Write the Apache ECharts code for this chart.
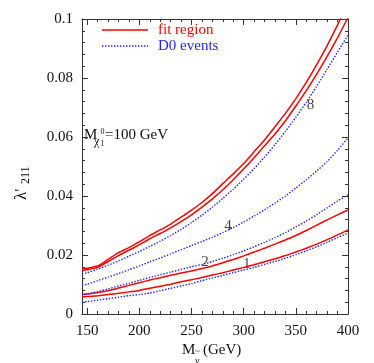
<!DOCTYPE html>
<html>
<head>
<meta charset="utf-8">
<script src="https://cdn.jsdelivr.net/npm/echarts@6/dist/echarts.min.js"></script>
<style>
  html, body { margin: 0; padding: 0; background: #fff; }
  #chart { width: 374px; height: 363px; }
</style>
</head>
<body>
<div id="chart"></div>
<script>
// sneutrino mass grid (GeV)
const massGrid = [145, 150, 160, 170, 180, 190, 200, 210, 220, 230, 240, 250, 260, 270,
  280, 290, 300, 310, 320, 330, 340, 350, 360, 370, 380, 390, 400];

// fit region bounds (red, solid)
const fitUpper = [0.0152, 0.0155, 0.0163, 0.0185, 0.0208, 0.0225, 0.0245, 0.0266, 0.0285, 0.0305,
  0.0328, 0.0352, 0.0378, 0.0408, 0.0442, 0.0475, 0.051, 0.055, 0.059, 0.0635, 0.068, 0.073,
  0.0785, 0.0845, 0.091, 0.098, 0.1055];
const fitLower = [0.0148, 0.015, 0.0158, 0.0178, 0.0198, 0.0216, 0.0235, 0.0255, 0.0273, 0.0292,
  0.0313, 0.0336, 0.0362, 0.039, 0.0421, 0.0455, 0.0492, 0.053, 0.057, 0.061, 0.0655, 0.0705,
  0.0757, 0.0813, 0.0873, 0.0937, 0.1005];
const fitTwo = [0.0067, 0.0068, 0.0073, 0.0079, 0.0088, 0.0097, 0.0106, 0.0115, 0.0123, 0.0131,
  0.0139, 0.0146, 0.0154, 0.0163, 0.0174, 0.0185, 0.0197, 0.021, 0.0223, 0.0237, 0.0251, 0.0266,
  0.0283, 0.0301, 0.0319, 0.0336, 0.0353];
const fitOne = [0.0058, 0.0059, 0.0062, 0.0066, 0.007, 0.0075, 0.008, 0.0087, 0.0094, 0.0101,
  0.0109, 0.0116, 0.0124, 0.0132, 0.014, 0.0149, 0.0158, 0.0167, 0.0177, 0.0187, 0.0198, 0.021,
  0.0223, 0.0237, 0.0252, 0.0268, 0.0285];

// D0 event contours (blue, dotted)
const d0Eight = [0.0135, 0.014, 0.0152, 0.0165, 0.018, 0.0196, 0.0212, 0.0229, 0.0247, 0.0266,
  0.0287, 0.031, 0.0335, 0.0362, 0.0392, 0.0423, 0.0457, 0.0493, 0.0532, 0.0574, 0.0619, 0.0667,
  0.0718, 0.0772, 0.083, 0.0888, 0.0946];
const d0Four = [0.0098, 0.0101, 0.0113, 0.0125, 0.0137, 0.015, 0.0163, 0.0177, 0.019, 0.0204,
  0.0218, 0.0232, 0.0246, 0.026, 0.0276, 0.0293, 0.0312, 0.0332, 0.0353, 0.0376, 0.04, 0.0427,
  0.0455, 0.0485, 0.0517, 0.0555, 0.0597];
const d0Two = [0.0066, 0.0068, 0.0076, 0.0085, 0.0095, 0.0104, 0.0114, 0.0124, 0.0133, 0.0142,
  0.0151, 0.016, 0.0168, 0.0178, 0.0189, 0.0201, 0.0214, 0.0228, 0.0243, 0.0259, 0.0276, 0.0295,
  0.0315, 0.0337, 0.036, 0.0383, 0.0404];
const d0One = [0.0041, 0.0042, 0.0047, 0.0052, 0.0057, 0.0062, 0.0066, 0.0071, 0.0079, 0.0087,
  0.0095, 0.0103, 0.0113, 0.0122, 0.0131, 0.014, 0.0149, 0.0158, 0.0168, 0.0178, 0.0189, 0.0201,
  0.0214, 0.0228, 0.0243, 0.0259, 0.0275];

// tick positions
const xMajorTicks = [150, 200, 250, 300, 350, 400];
const xMinorTicks = [150, 160, 170, 180, 190, 200, 210, 220, 230, 240, 250, 260, 270, 280, 290,
  300, 310, 320, 330, 340, 350, 360, 370, 380, 390, 400];

// contour number labels: [text, mass, lambda]
const contourLabels = [['8', 364, 0.0708], ['4', 285, 0.0298], ['2', 263, 0.0176], ['1', 303, 0.0169]];

const serif = '"Liberation Serif", "DejaVu Serif", serif';
const RED = '#ff0000';
const BLUE = '#1f1fff';
const AXIS = '#333';
const DOTS = [1.4, 1.6];

function pairs(ys) {
  return massGrid.map((m, i) => [m, ys[i]]);
}

function xAxisDef(pos, ticks, len, labels) {
  return {
    type: 'value', min: 145, max: 400, position: pos,
    axisLine: { show: true, lineStyle: { color: AXIS, width: 1 } },
    axisTick: { show: true, inside: true, length: len, customValues: ticks, lineStyle: { color: AXIS } },
    axisLabel: labels ? {
      show: true, customValues: xMajorTicks, margin: 10,
      fontFamily: serif, fontSize: 15, color: '#111'
    } : { show: false },
    splitLine: { show: false }
  };
}

function yAxisDef(pos, labels) {
  return {
    type: 'value', min: 0, max: 0.1, interval: 0.02, position: pos,
    axisLine: { show: true, lineStyle: { color: AXIS, width: 1 } },
    axisTick: { show: true, inside: true, length: 6, lineStyle: { color: AXIS } },
    minorTick: { show: true, splitNumber: 5, length: 3, lineStyle: { color: AXIS } },
    axisLabel: labels ? { show: true, margin: 9, fontFamily: serif, fontSize: 15, color: '#111' } : { show: false },
    splitLine: { show: false }
  };
}

function redLine(ys) {
  return {
    name: 'fit region', type: 'line', data: pairs(ys), symbol: 'none', smooth: 0.2,
    lineStyle: { color: RED, width: 1.5 }, itemStyle: { color: RED }
  };
}

function blueLine(ys) {
  return {
    name: 'D0 events', type: 'line', data: pairs(ys), symbol: 'none', smooth: 0.2,
    lineStyle: { color: BLUE, width: 1.4, type: DOTS }, itemStyle: { color: BLUE }
  };
}

const labelSeries = {
  type: 'scatter', symbolSize: 0, silent: true,
  data: contourLabels.map(l => ({ value: [l[1], l[2]], name: l[0] })),
  label: {
    show: true, position: 'inside', formatter: p => p.name,
    fontFamily: serif, fontSize: 15, color: '#111'
  }
};

const chart = echarts.init(document.getElementById('chart'));
chart.setOption({
  animation: false,
  backgroundColor: '#fff',
  grid: { left: 82, right: 26, top: 19, bottom: 49 },
  xAxis: [
    xAxisDef('bottom', xMajorTicks, 6, true),
    xAxisDef('bottom', xMinorTicks, 3, false),
    xAxisDef('top', xMajorTicks, 6, false),
    xAxisDef('top', xMinorTicks, 3, false)
  ],
  yAxis: [yAxisDef('left', true), yAxisDef('right', false)],
  series: [
    redLine(fitUpper), redLine(fitLower), redLine(fitTwo), redLine(fitOne),
    blueLine(d0Eight), blueLine(d0Four), blueLine(d0Two), blueLine(d0One),
    labelSeries
  ],
  graphic: [
    // legend
    { type: 'line', shape: { x1: 102, y1: 30, x2: 148, y2: 30 }, style: { stroke: RED, lineWidth: 1.5 } },
    { type: 'text', x: 158, y: 30, style: { text: 'fit region', font: '15px ' + serif, fill: RED, textVerticalAlign: 'middle' } },
    { type: 'line', shape: { x1: 102, y1: 46, x2: 148, y2: 46 }, style: { stroke: BLUE, lineWidth: 1.4, lineDash: DOTS } },
    { type: 'text', x: 158, y: 46, style: { text: 'D0 events', font: '15px ' + serif, fill: BLUE, textVerticalAlign: 'middle' } },
    // y-axis title: lambda'_211
    { type: 'text', x: 13, y: 200, rotation: Math.PI / 2,
      style: { text: "λ'", font: '17px ' + serif, fill: '#111', textAlign: 'left', textVerticalAlign: 'top' } },
    { type: 'text', x: 20, y: 184, rotation: Math.PI / 2,
      style: { text: '211', font: '12px ' + serif, fill: '#111', textAlign: 'left', textVerticalAlign: 'top' } },
    // M_chi1^0 = 100 GeV
    { type: 'text', left: 84, top: 128, style: { text: 'M', font: '15px ' + serif, fill: '#111' } },
    { type: 'text', left: 94, top: 136, style: { text: 'χ', font: '12px ' + serif, fill: '#111' } },
    { type: 'text', left: 100.5, top: 140, style: { text: '1', font: '8px ' + serif, fill: '#111' } },
    { type: 'text', left: 100.5, top: 128, style: { text: '0', font: '8px ' + serif, fill: '#111' } },
    { type: 'text', left: 105, top: 128, style: { text: '=100 GeV', font: '15px ' + serif, fill: '#111' } },
    // x-axis title: M_sneutrino (GeV)
    { type: 'text', left: 182, top: 343, style: { text: 'M', font: '15px ' + serif, fill: '#111' } },
    { type: 'text', left: 195, top: 347, style: { text: '~', font: '9px ' + serif, fill: '#111' } },
    { type: 'text', left: 195, top: 356, style: { text: 'ν', font: '10px ' + serif, fill: '#111' } },
    { type: 'text', left: 203, top: 343, style: { text: '(GeV)', font: '15px ' + serif, fill: '#111' } }
  ]
});
</script>
</body>
</html>
